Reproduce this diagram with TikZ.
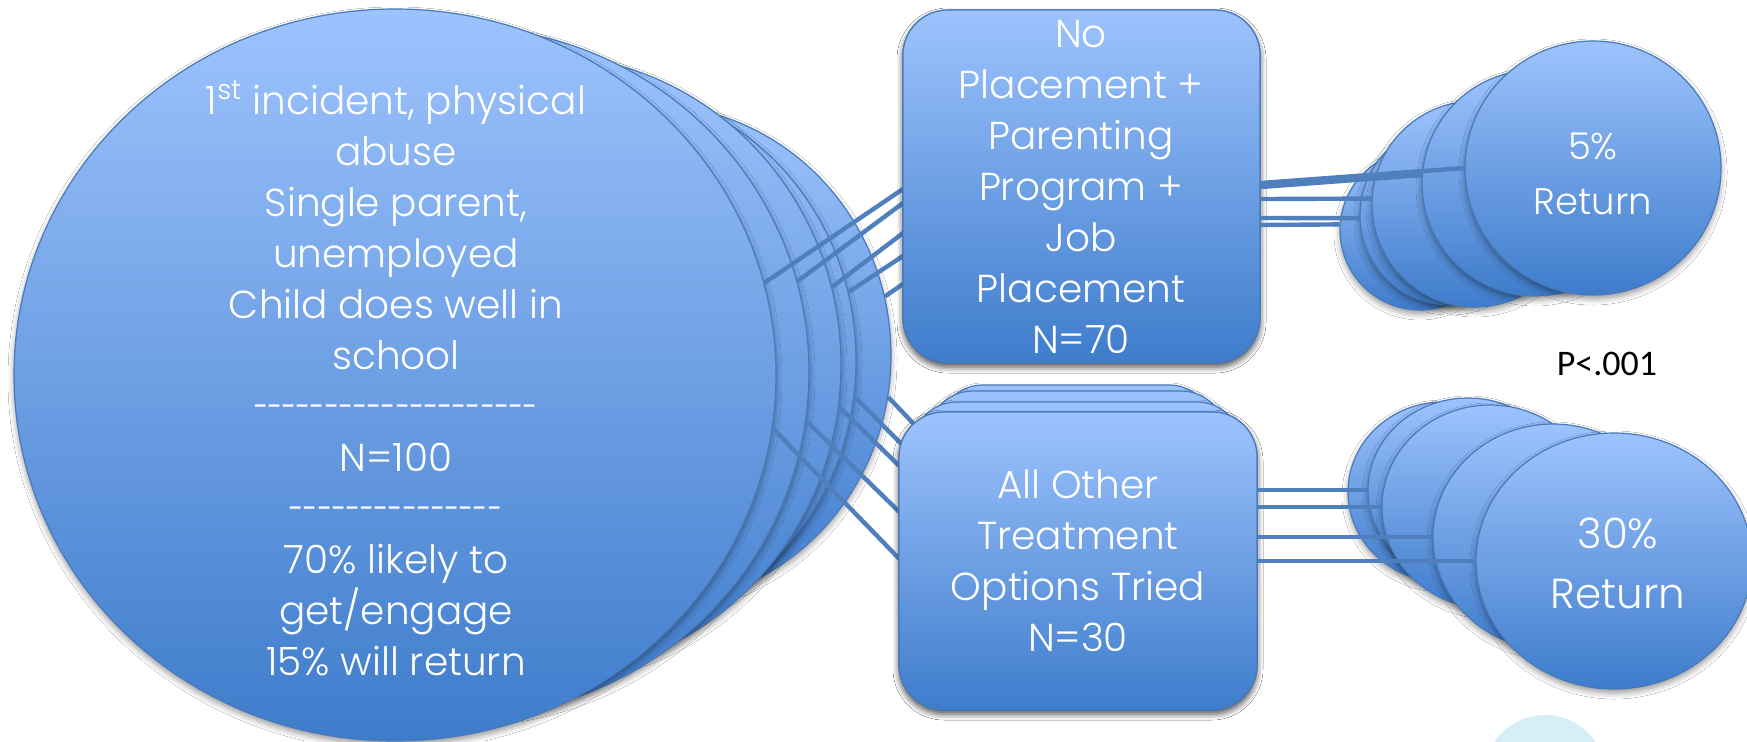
\documentclass[tikz,border=0pt]{standalone}
\usepackage{graphicx}
\usepackage{fontspec}
\IfFontExistsTF{Poppins Light}{\setmainfont{Poppins Light}}{\setmainfont{Poppins}}
\newfontfamily\statfont{Carlito}
\usetikzlibrary{shapes.geometric,shadows.blur,calc}

\definecolor{shTop}{RGB}{157,195,253}
\definecolor{shBot}{RGB}{62,124,203}
\definecolor{shEdge}{RGB}{72,122,186}
\definecolor{wireC}{RGB}{79,128,189}
\definecolor{paleC}{RGB}{214,238,245}

% a run of plain hyphens, kept apart so they never merge into dashes,
% set a little narrower than the font's own hyphen
\newcommand\hyphenrun[1]{\scalebox{0.7}[1]{\foreach \k in {1,...,#1}{-\kern0pt}}}

\begin{document}
\begin{tikzpicture}[x=0.5pt,y=-0.5pt,
  body/.style={top color=shTop, bottom color=shBot, draw=shEdge, line width=0.6pt, inner sep=0pt,
    blur shadow={shadow xshift=0pt, shadow yshift=-2pt, shadow blur radius=3pt, shadow opacity=40}},
  disc/.style={body, ellipse},
  card/.style={body, rectangle, rounded corners=22.5pt},
  txt/.style={text=white, align=center, inner sep=0pt, font=\fontsize{19.5pt}{25.5pt}\selectfont},
  wire/.style={draw=wireC, line width=2.2pt},
]
\useasboundingbox (0,0) rectangle (1747,741);
\fill[white] (0,0) rectangle (1747,741);
\clip (0,0) rectangle (1747,741);

% pale disc at the lower edge
\node[circle, fill=paleC, minimum size=61pt, inner sep=0pt] (pale) at (1545,776) {};

% ---- case profile: stack of discs, back to front
\node[disc, minimum width=241pt, minimum height=250pt] (c4) at (650,355) {};
\node[disc, minimum width=261pt, minimum height=275pt] (c3) at (595,360) {};
\node[disc, minimum width=300pt, minimum height=310pt] (c2) at (541,365) {};
\node[disc, minimum width=350pt, minimum height=345pt] (c1) at (459,372) {};
\node[disc, minimum width=381pt, minimum height=366pt] (c0) at (395,375) {};
\node[txt] (t0) at (396,378) {1\textsuperscript{st} incident, physical\\abuse\\Single parent,\\unemployed\\Child does well in\\school\\\hyphenrun{20}\\N=100\\\hyphenrun{15}\\70\% likely to\\get/engage\\15\% will return};

% ---- treatment boxes
\node[card, minimum width=178.5pt, minimum height=176.5pt] (boxA) at (1081.5,186.5) {};
\node[card, minimum width=138pt, minimum height=147.5pt] (bb1) at (1076,532.5) {};
\node[card, minimum width=149pt, minimum height=149pt] (bb2) at (1077,540) {};
\node[card, minimum width=165pt, minimum height=149pt] (bb3) at (1077,551) {};

% connectors from the profile stack (drawn before the front boxes)
\draw[wire] (c0.14.8) -- ($(boxA.west)+(2,1.5)$);
\draw[wire] (c1.15.3) -- ($(boxA.west)+(2,15.5)$);
\draw[wire] (c2.15.5) -- ($(boxA.west)+(2,45.5)$);
\draw[wire] (c3.15.2) -- ($(boxA.west)+(2,68.5)$);
\draw[wire] (c4.14.2) -- ($(boxA.west)+(2,96.5)$);

\node[card, minimum width=179pt, minimum height=149pt] (bf) at (1078,561) {};

\draw[wire] (c0.-8.6) -- ($(bf.west)+(2,-1)$);
\draw[wire] (c1.-8.3) -- ($(bf.west)+(2,-48)$);
\draw[wire] (c2.-8.0) -- ($(bf.west)+(2,-94)$);
\draw[wire] (c3.-8.8) -- ($(bf.west)+(5,-115)$);
\draw[wire] (c4.-10.3) -- ($(bb3.west)+(10,-119)$);

% redraw the front boxes over the wire ends
\node[card, minimum width=178.5pt, minimum height=176.5pt] (boxA2) at (boxA) {};
\node[card, minimum width=179pt, minimum height=149pt] (bf2) at (bf) {};

\node[txt] (tA) at (1081,187) {No\\Placement +\\Parenting\\Program +\\Job\\Placement\\N=70};
\node[txt] (tB) at (1078,561) {All Other\\Treatment\\Options Tried\\N=30};

% ---- outcome stack, upper branch
\node[disc, minimum width=80pt, minimum height=80pt] (a4) at (1420,230) {};
\node[disc, minimum width=90pt, minimum height=90pt] (a3) at (1450,215) {};
\node[disc, minimum width=103pt, minimum height=103pt] (a2) at (1475,204) {};
\node[disc, minimum width=113pt, minimum height=113pt] (a1) at (1535,183) {};
\node[disc, minimum width=128pt, minimum height=127pt] (a0) at (1593,168) {};

\draw[wire] ($(boxA2.east)+(0,-3.5)$) -- (a0.180);
\draw[wire] ($(boxA2.east)+(0,0.5)$) -- (a1.176.5);
\draw[wire] ($(boxA2.east)+(0,12.5)$) -- (a2.177.8);
\draw[wire] ($(boxA2.east)+(0,31.5)$) -- (a3.182.5);
\draw[wire] ($(boxA2.east)+(0,38.5)$) -- (a4.176.3);

\node[txt, font=\fontsize{18.5pt}{27.5pt}\selectfont] (tA0) at (1593,174) {5\%\\Return};

% ---- outcome stack, lower branch
\node[disc, minimum width=95pt, minimum height=90pt] (b4) at (1443,492) {};
\node[disc, minimum width=100pt, minimum height=92pt] (b3) at (1468,490) {};
\node[disc, minimum width=108pt, minimum height=102pt] (b2) at (1490,507) {};
\node[disc, minimum width=120pt, minimum height=113pt] (b1) at (1553,537) {};
\node[disc, minimum width=138pt, minimum height=128pt] (b0) at (1614,561) {};

\draw[wire] (b3.west) -- (b3.west -| bf2.east);
\draw[wire] (b2.west) -- (b2.west -| bf2.east);
\draw[wire] (b1.west) -- (b1.west -| bf2.east);
\draw[wire] (b0.west) -- (b0.west -| bf2.east);

\node[txt, font=\fontsize{21pt}{30pt}\selectfont] (tB0) at (1618,563) {30\%\\Return};

% significance note
\node[font=\statfont\fontsize{18pt}{20pt}\selectfont, inner sep=0pt] (pval) at (1607,364) {P<.001};
\end{tikzpicture}
\end{document}
